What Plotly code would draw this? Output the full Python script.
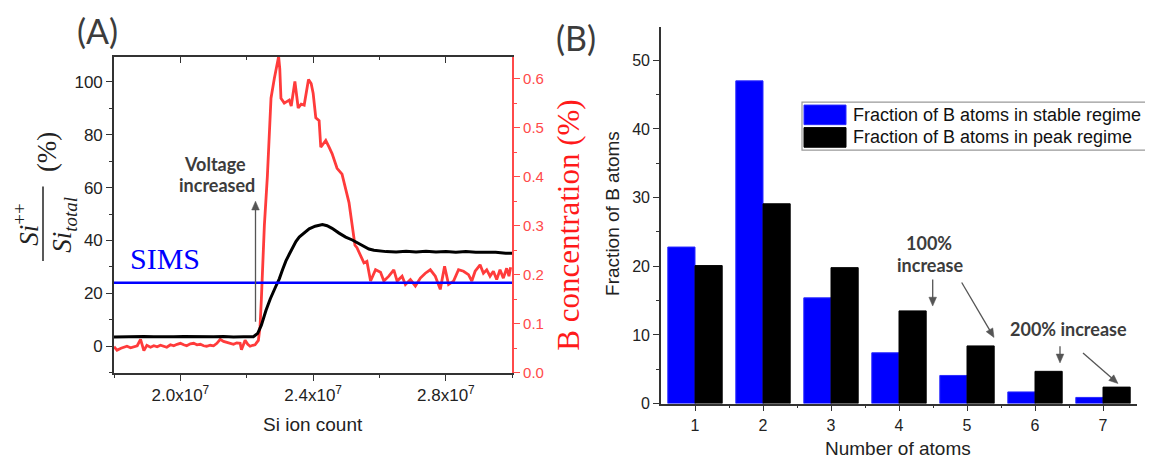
import math
import plotly.graph_objects as go

# The page body has an 8px margin, so the figure is made 8px smaller and all
# reference pixel positions are shifted by 8px.
OFF = 8
W, H = 1153 - OFF, 468 - OFF

# ---------------- Panel A data ----------------
# Si ion count in units of 1e7
si_x_e7 = [1.80, 1.83, 1.86, 1.89, 1.92, 1.95, 1.98, 2.01, 2.04, 2.07, 2.10, 2.13, 2.16, 2.19, 2.22,
           2.233, 2.244, 2.258, 2.271, 2.288, 2.298, 2.308, 2.318, 2.328, 2.338, 2.348, 2.358, 2.373,
           2.388, 2.406, 2.428, 2.442, 2.457, 2.478, 2.498, 2.518, 2.538, 2.553, 2.568, 2.583, 2.598,
           2.62, 2.65, 2.68, 2.71, 2.74, 2.77, 2.80, 2.83, 2.86, 2.89, 2.92, 2.95, 2.98, 3.00]
si_ratio = [3.5, 3.6, 3.5, 3.7, 3.6, 3.5, 3.6, 3.7, 3.6, 3.5, 3.6, 3.7, 3.5, 3.6, 3.6,
            4.9, 8.0, 13.6, 18.0, 22.8, 25.5, 29.0, 32.3, 34.8, 37.5, 39.6, 41.3, 43.0,
            44.4, 45.4, 46.0, 45.6, 44.6, 42.8, 41.3, 40.2, 38.9, 37.8, 36.8, 36.3, 36.0,
            35.8, 35.7, 35.9, 35.7, 35.9, 35.7, 35.8, 35.6, 35.8, 35.6, 35.5, 35.6, 35.2, 35.2]

b_x_e7 = [1.800, 1.809, 1.821, 1.830, 1.839, 1.850, 1.860, 1.870, 1.880, 1.890, 1.899, 1.910, 1.920,
          1.930, 1.940, 1.950, 1.959, 1.970, 1.980, 1.990, 2.000, 2.010, 2.019, 2.030, 2.040, 2.050,
          2.060, 2.070, 2.079, 2.090, 2.100, 2.110, 2.120, 2.130, 2.139, 2.150, 2.160, 2.170, 2.180,
          2.184, 2.195, 2.203, 2.210, 2.218, 2.225, 2.235, 2.240, 2.244, 2.2485, 2.253, 2.262, 2.268,
          2.273, 2.283, 2.292, 2.296, 2.2995, 2.303, 2.313, 2.322, 2.328, 2.334, 2.345, 2.355, 2.364,
          2.373, 2.386, 2.394, 2.400, 2.408, 2.418, 2.423, 2.438, 2.448, 2.457, 2.472, 2.487, 2.508,
          2.517, 2.526, 2.532, 2.543, 2.553, 2.562, 2.573, 2.588, 2.603, 2.613, 2.628, 2.643, 2.653,
          2.668, 2.678, 2.693, 2.708, 2.723, 2.738, 2.753, 2.768, 2.783, 2.796, 2.808, 2.823, 2.838,
          2.853, 2.868, 2.878, 2.888, 2.903, 2.913, 2.923, 2.933, 2.943, 2.953, 2.963, 2.973, 2.983,
          2.990, 2.995]
b_conc = [0.053, 0.046, 0.050, 0.052, 0.054, 0.051, 0.053, 0.055, 0.068, 0.045, 0.056, 0.052, 0.055,
          0.053, 0.056, 0.054, 0.052, 0.057, 0.055, 0.058, 0.060, 0.057, 0.055, 0.059, 0.060, 0.057,
          0.058, 0.055, 0.054, 0.056, 0.055, 0.060, 0.068, 0.064, 0.062, 0.060, 0.058, 0.061, 0.060,
          0.047, 0.066, 0.058, 0.054, 0.056, 0.057, 0.066, 0.094, 0.15, 0.22, 0.30, 0.40, 0.50,
          0.56, 0.60, 0.63, 0.645, 0.62, 0.56, 0.55, 0.553, 0.556, 0.544, 0.594, 0.54, 0.548,
          0.546, 0.598, 0.59, 0.57, 0.52, 0.514, 0.46, 0.474, 0.46, 0.447, 0.417, 0.405, 0.347,
          0.30, 0.26, 0.255, 0.24, 0.224, 0.227, 0.187, 0.21, 0.205, 0.187, 0.197, 0.21, 0.187,
          0.197, 0.18, 0.19, 0.177, 0.193, 0.203, 0.21, 0.197, 0.17, 0.217, 0.18, 0.187, 0.21,
          0.207, 0.2, 0.187, 0.207, 0.22, 0.203, 0.21, 0.197, 0.207, 0.19, 0.21, 0.193, 0.213,
          0.197, 0.215]

sims_x_e7 = [1.8, 3.0]
sims_level = [24, 24]

x_tick_e7 = [2.0, 2.4, 2.8]
x_tick_text = ["2.0x10<sup>7</sup>", "2.4x10<sup>7</sup>", "2.8x10<sup>7</sup>"]
left_ticks = [0, 20, 40, 60, 80, 100]
right_ticks = [0.0, 0.1, 0.2, 0.3, 0.4, 0.5, 0.6]
right_tick_text = ["0.0", "0.1", "0.2", "0.3", "0.4", "0.5", "0.6"]

# ---------------- Panel B data ----------------
n_atoms = [1, 2, 3, 4, 5, 6, 7]
stable = [22.8, 47.0, 15.4, 7.4, 4.1, 1.7, 0.9]
peak = [20.1, 29.1, 19.8, 13.5, 8.4, 4.7, 2.4]
legend_labels = ["Fraction of B atoms in stable regime", "Fraction of B atoms in peak regime"]

E7 = 1e7
si_x = [v * E7 for v in si_x_e7]
b_x = [v * E7 for v in b_x_e7]
sims_x = [v * E7 for v in sims_x_e7]

RED = "#ff3b3b"
REDAX = "#ff4a4a"
BLUE = "#0000ff"
GRAY = "#3c3c3c"


def px(x):
    return (x - OFF) / W


def py(y):
    return 1 - (y - OFF) / H


fig = go.Figure()

# red curve on base axis (right side)
fig.add_trace(go.Scatter(x=b_x, y=b_conc, mode="lines", line=dict(color=RED, width=2.8),
                         xaxis="x", yaxis="y", hoverinfo="skip"))
# black curve on left axis (overlay)
fig.add_trace(go.Scatter(x=si_x, y=si_ratio, mode="lines", line=dict(color="black", width=3),
                         xaxis="x", yaxis="y2", hoverinfo="skip"))
# SIMS line
fig.add_trace(go.Scatter(x=sims_x, y=sims_level, mode="lines", line=dict(color=BLUE, width=2.6),
                         xaxis="x2", yaxis="y2", hoverinfo="skip"))

# bars
fig.add_trace(go.Bar(x=n_atoms, y=stable, name=legend_labels[0], xaxis="x3", yaxis="y3",
                     marker=dict(color=BLUE, line=dict(color="#2a2aff", width=1))))
fig.add_trace(go.Bar(x=n_atoms, y=peak, name=legend_labels[1], xaxis="x3", yaxis="y3",
                     marker=dict(color="black", line=dict(color="black", width=1))))

domA_x = [px(114), px(512.3)]
domA_y = [py(380), py(58)]
domB_x = [px(661), px(1137)]
domB_y = [py(411.5), py(27.7)]

tickfontA = dict(family="Liberation Sans, Arial", size=17, color="#222")
tickfontB = dict(family="Liberation Sans, Arial", size=16, color="#222")

fig.update_layout(
    width=W, height=H,
    margin=dict(l=0, r=0, t=0, b=0),
    paper_bgcolor="white", plot_bgcolor="white",
    showlegend=False,
    barmode="group", bargap=0.2, bargroupgap=0.0,
    xaxis=dict(domain=domA_x, range=[1.8 * E7, 3.0 * E7], anchor="y",
               tickmode="array", tickvals=[v * E7 for v in x_tick_e7], ticktext=x_tick_text,
               ticks="outside", ticklen=6, tickwidth=1.3, tickcolor="#333",
               minor=dict(tickvals=[v * E7 for v in [1.8, 2.2, 2.6, 3.0]], ticks="outside",
                          ticklen=3, tickwidth=1.2, tickcolor="#333"),
               showline=True, linecolor="#333", linewidth=1.6,
               showgrid=False, zeroline=False, tickfont=tickfontA),
    xaxis2=dict(overlaying="x", side="top", anchor="y", range=[1.8 * E7, 3.0 * E7],
                tickmode="array", tickvals=[v * E7 for v in x_tick_e7], showticklabels=False,
                ticks="inside", ticklen=6, tickwidth=1.3, tickcolor="#333",
                minor=dict(tickvals=[v * E7 for v in [2.2, 2.6]], ticks="inside",
                           ticklen=3, tickwidth=1.2, tickcolor="#333"),
                showline=True, linecolor="#333", linewidth=1.6, showgrid=False, zeroline=False),
    yaxis=dict(domain=domA_y, range=[0, 0.644], anchor="x", side="right",
               tickmode="array", tickvals=right_ticks, ticktext=right_tick_text,
               ticks="outside", ticklen=6, tickwidth=1.3, tickcolor=REDAX,
               minor=dict(tickvals=[0.05, 0.15, 0.25, 0.35, 0.45, 0.55], ticks="outside",
                          ticklen=3, tickwidth=1.2, tickcolor=REDAX),
               showline=True, linecolor=REDAX, linewidth=1.6, showgrid=False, zeroline=False,
               tickfont=dict(family="Liberation Sans, Arial", size=15, color=REDAX)),
    yaxis2=dict(overlaying="y", side="left", anchor="x", range=[-10, 109.4],
                tickmode="array", tickvals=left_ticks,
                ticks="outside", ticklen=6, tickwidth=1.3, tickcolor="#333",
                minor=dict(tickvals=[-10, 10, 30, 50, 70, 90], ticks="outside",
                           ticklen=3, tickwidth=1.2, tickcolor="#333"),
                showline=True, linecolor="#333", linewidth=1.6, showgrid=False, zeroline=False,
                tickfont=tickfontA),
    xaxis3=dict(domain=domB_x, range=[0.5, 7.5], anchor="y3",
                tickmode="array", tickvals=n_atoms,
                ticks="outside", ticklen=6, tickwidth=1.3, tickcolor="#333",
                minor=dict(tickvals=[1.5, 2.5, 3.5, 4.5, 5.5, 6.5], ticks="outside",
                           ticklen=3, tickwidth=1.2, tickcolor="#333"),
                showline=True, linecolor="#333", linewidth=1.6, showgrid=False, zeroline=False,
                tickfont=tickfontB),
    yaxis3=dict(domain=domB_y, range=[0, 54.8], anchor="x3",
                tickmode="array", tickvals=[0, 10, 20, 30, 40, 50],
                ticks="outside", ticklen=6, tickwidth=1.3, tickcolor="#333",
                minor=dict(tickvals=[5, 15, 25, 35, 45], ticks="outside",
                           ticklen=3, tickwidth=1.2, tickcolor="#333"),
                showline=True, linecolor="#333", linewidth=1.6, showgrid=False, zeroline=False,
                tickfont=tickfontB),
)

ann = []
shapes = []


def text(x, y, t, size, color="#222", family="Liberation Sans, Arial", angle=0, xanchor="center"):
    ann.append(dict(x=px(x), y=py(y), xref="paper", yref="paper", text=t, showarrow=False,
                    font=dict(family=family, size=size, color=color), textangle=angle,
                    xanchor=xanchor, yanchor="middle"))


def arrow(x_tail, y_tail, x_tip, y_tip, color="#555", width=1.3, head=9, half=3.8):
    dx, dy = x_tip - x_tail, y_tip - y_tail
    L = math.hypot(dx, dy)
    ux, uy = dx / L, dy / L
    bx, by = x_tip - ux * head, y_tip - uy * head
    nx, ny = -uy, ux
    shapes.append(dict(type="line", xref="paper", yref="paper",
                       x0=px(x_tail), y0=py(y_tail), x1=px(bx + ux), y1=py(by + uy),
                       line=dict(color=color, width=width)))
    path = "M {} {} L {} {} L {} {} Z".format(
        px(x_tip), py(y_tip),
        px(bx + nx * half), py(by + ny * half),
        px(bx - nx * half), py(by - ny * half))
    shapes.append(dict(type="path", xref="paper", yref="paper", path=path,
                       fillcolor=color, line=dict(color=color, width=0.5)))


GILL = "Lato, Open Sans, sans-serif"
SERIF = "Liberation Serif, DejaVu Serif, serif"

# Panel labels
text(97, 31, "(A)", 34, GRAY, GILL)
text(576, 38, "(B)", 34, GRAY, GILL)

# Panel A texts
text(313, 433, "Si ion count", 19)
text(569, 230, "B concentration (%)", 31, "#ff1a1a", SERIF, angle=-90)
text(165, 264, "SIMS", 30, BLUE, SERIF)
text(215, 167, "<b>Voltage</b>", 18, GRAY, GILL)
text(217, 189, "<b>increased</b>", 18, GRAY, GILL)
arrow(255.5, 328, 255.5, 205)

# left y label as fraction
text(26, 229, "<i>Si</i><sup>++</sup>", 27, "#222", SERIF, angle=-90)
text(64, 229, "<i>Si<sub>total</sub></i>", 27, "#222", SERIF, angle=-90)
text(47, 155, "(%)", 27, "#222", SERIF, angle=-90)

# Panel B texts
text(613, 218, "Fraction of B atoms", 19, angle=-90)
text(898, 457, "Number of atoms", 19)
text(929, 248, "<b>100%</b>", 18, GRAY, GILL)
text(930, 270, "<b>increase</b>", 18, GRAY, GILL)
text(1068, 335, "<b>200% increase</b>", 18, GRAY, GILL)
arrow(932.7, 285, 932.7, 312)
arrow(961.7, 288, 994, 344)
arrow(1060, 353, 1060, 370)
arrow(1083, 360, 1118, 391)

# Legend (manual)
text(851, 117, legend_labels[0], 18, "#111", xanchor="left")
text(851, 140, legend_labels[1], 18, "#111", xanchor="left")

# fraction bar of the left y label
shapes.append(dict(type="line", xref="paper", yref="paper", x0=px(43), x1=px(43),
                   y0=py(190), y1=py(266), line=dict(color="#222", width=1.5)))
# legend box and swatches
shapes.append(dict(type="rect", xref="paper", yref="paper", x0=px(802), x1=px(1153),
                   y0=py(153), y1=py(104), line=dict(color="#999", width=1.2),
                   fillcolor="rgba(0,0,0,0)"))
shapes.append(dict(type="rect", xref="paper", yref="paper", x0=px(804), x1=px(846),
                   y0=py(127), y1=py(107), line=dict(color="#2a2aff", width=1), fillcolor=BLUE))
shapes.append(dict(type="rect", xref="paper", yref="paper", x0=px(804), x1=px(846),
                   y0=py(150), y1=py(130), line=dict(color="black", width=1), fillcolor="black"))

fig.update_layout(annotations=ann, shapes=shapes)

fig.write_html("out.html")
